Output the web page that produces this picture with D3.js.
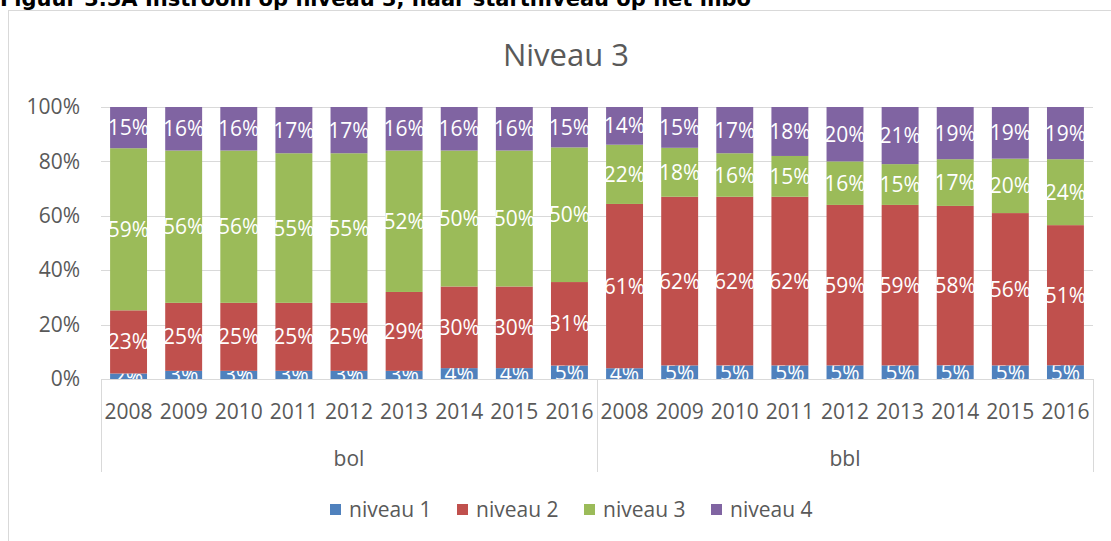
<!DOCTYPE html>
<html>
<head>
<meta charset="utf-8">
<script src="https://cdn.jsdelivr.net/npm/d3@7"></script>
<style>
  body { margin: 0; background: #fff; overflow: hidden; }
  text { font-family: "Open Sans", "Noto Sans", sans-serif; }
</style>
</head>
<body>
<div id="graph"></div>
<script>
// data
var groups = ["bol", "bbl"];
var years = ["2008", "2009", "2010", "2011", "2012", "2013", "2014", "2015", "2016"];
var seriesNames = ["niveau 1", "niveau 2", "niveau 3", "niveau 4"];
var colors = ["#4f81bd", "#c0504d", "#9bbb59", "#8064a2"];
var yTicks = [0, 0.2, 0.4, 0.6, 0.8, 1];

var niveau1 = [2, 3, 3, 3, 3, 3, 4, 4, 5,   4, 5, 5, 5, 5, 5, 5, 5, 5];
var niveau2 = [23, 25, 25, 25, 25, 29, 30, 30, 31,   61, 62, 62, 62, 59, 59, 58, 56, 51];
var niveau3 = [59, 56, 56, 55, 55, 52, 50, 50, 50,   22, 18, 16, 15, 16, 15, 17, 20, 24];
var niveau4 = [15, 16, 16, 17, 17, 16, 16, 16, 15,   14, 15, 17, 18, 20, 21, 19, 19, 19];

var W = 1111, H = 541;
var margin = {top: 107, right: 18, bottom: 162, left: 101};
var width = W - margin.left - margin.right,
    height = H - margin.top - margin.bottom;
var fs = '21px';

// table for stacking
var rows = [];
groups.forEach(function(g, gi){
	years.forEach(function(y, yi){
		var i = gi * years.length + yi;
		rows.push({key: g + y, group: g, year: y,
			"niveau 1": niveau1[i], "niveau 2": niveau2[i],
			"niveau 3": niveau3[i], "niveau 4": niveau4[i]});
	});
});

var stacked = d3.stack().keys(seriesNames).offset(d3.stackOffsetExpand)(rows);

var svg = d3.select('#graph').append('svg')
	.attr('width', W).attr('height', H);

// outer chart border (runs off the picture on the right and bottom)
svg.append('rect')
	.attr('x', 8.5).attr('y', 10.5)
	.attr('width', 1130).attr('height', 560)
	.attr('fill', 'none').attr('stroke', '#d9d9d9');

// caption above, cut off by the top edge like in the source
svg.append('text')
	.attr('x', 0).attr('y', 6)
	.attr('font-size', '21px').attr('font-weight', 'bold')
	.style('font-family', '"DejaVu Sans", sans-serif')
	.attr('fill', '#000')
	.text('Figuur 3.5A Instroom op niveau 3, naar startniveau op het mbo');

svg.append('text')
	.attr('x', 566).attr('y', 66)
	.attr('text-anchor', 'middle')
	.attr('font-size', '31px').attr('fill', '#595959')
	.text('Niveau 3');

var g = svg.append('g').attr('transform', `translate(${margin.left},${margin.top})`);

var x = d3.scaleBand().domain(rows.map(d => d.key)).range([0, width]).paddingInner(0.33).paddingOuter(0.165);
var y = d3.scaleLinear().domain([0, 1]).range([height, 0]);

// gridlines
g.append('g').selectAll('line')
	.data(yTicks).enter().append('line')
	.attr('x1', 0).attr('x2', width)
	.attr('y1', d => Math.round(y(d)) + 0.5).attr('y2', d => Math.round(y(d)) + 0.5)
	.attr('stroke', '#d9d9d9').attr('stroke-width', 1);

// y axis labels
var yAxis = d3.axisLeft(y).tickValues(yTicks).tickFormat(d3.format('.0%')).tickSize(0).tickPadding(21);
g.append('g').call(yAxis)
	.call(a => a.select('.domain').remove())
	.selectAll('text')
	.attr('font-size', fs).attr('fill', '#595959')
	.style('font-family', '"Open Sans", sans-serif');

svg.append('clipPath').attr('id', 'plotclip')
	.append('rect').attr('x', 0).attr('y', -5).attr('width', width).attr('height', height + 5);

var plot = g.append('g').attr('clip-path', 'url(#plotclip)');

var layers = plot.selectAll('g.layer')
	.data(stacked).enter().append('g')
	.attr('class', 'layer')
	.attr('fill', (d, i) => colors[i]);

layers.selectAll('rect')
	.data(d => d).enter().append('rect')
	.attr('x', d => x(d.data.key))
	.attr('width', x.bandwidth())
	.attr('y', d => y(d[1]))
	.attr('height', d => y(d[0]) - y(d[1]));

// data labels
layers.selectAll('text')
	.data((d, i) => d.map(v => ({v: v, key: stacked[i].key})))
	.enter().append('text')
	.attr('x', d => x(d.v.data.key) + x.bandwidth() / 2)
	.attr('y', d => (y(d.v[0]) + y(d.v[1])) / 2)
	.attr('dy', '0.36em')
	.attr('text-anchor', 'middle')
	.attr('font-size', fs).attr('fill', '#fff')
	.text(d => d.v.data[d.key] + '%');

// category axis: years and groups
var axisG = g.append('g').attr('transform', `translate(0,${height})`);
axisG.append('line')
	.attr('x1', 0).attr('x2', width).attr('y1', 0.5).attr('y2', 0.5)
	.attr('stroke', '#d9d9d9');

var groupEdges = [0, width / 2, width];
axisG.selectAll('line.sep')
	.data(groupEdges).enter().append('line')
	.attr('class', 'sep')
	.attr('x1', d => Math.round(d) + 0.5).attr('x2', d => Math.round(d) + 0.5)
	.attr('y1', 0).attr('y2', 93)
	.attr('stroke', '#d9d9d9');

axisG.selectAll('text.year')
	.data(rows).enter().append('text')
	.attr('class', 'year')
	.attr('x', d => x(d.key) + x.bandwidth() / 2)
	.attr('y', 32).attr('dy', '0.36em')
	.attr('text-anchor', 'middle')
	.attr('font-size', fs).attr('fill', '#595959')
	.text(d => d.year);

axisG.selectAll('text.grp')
	.data(groups).enter().append('text')
	.attr('class', 'grp')
	.attr('x', (d, i) => (groupEdges[i] + groupEdges[i + 1]) / 2)
	.attr('y', 79).attr('dy', '0.36em')
	.attr('text-anchor', 'middle')
	.attr('font-size', fs).attr('fill', '#595959')
	.text(d => d);

// legend
var legend = svg.append('g').attr('transform', 'translate(330,509)');
var items = legend.selectAll('g')
	.data(seriesNames).enter().append('g')
	.attr('transform', (d, i) => `translate(${i * 127},0)`);
items.append('rect')
	.attr('x', 0).attr('y', -5).attr('width', 11).attr('height', 11)
	.attr('fill', (d, i) => colors[i]);
items.append('text')
	.attr('x', 19).attr('y', 0).attr('dy', '0.36em')
	.attr('font-size', fs).attr('fill', '#595959')
	.text(d => d);
</script>
</body>
</html>
